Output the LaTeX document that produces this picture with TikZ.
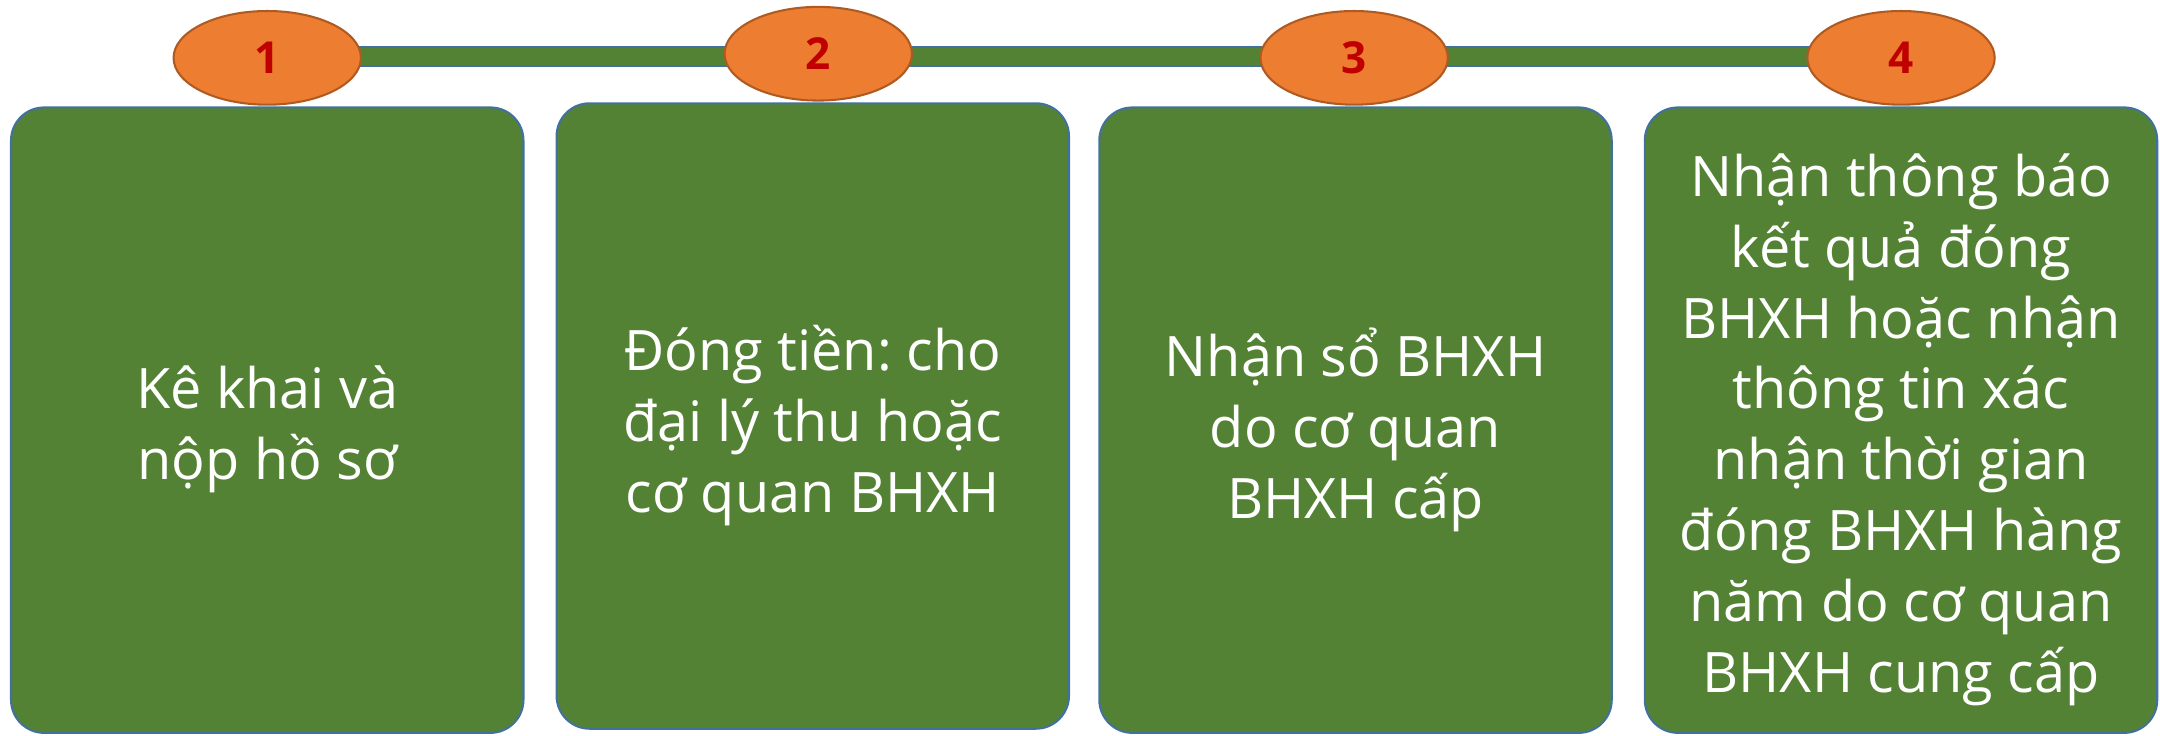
\documentclass[tikz,border=0pt]{standalone}
\usepackage{fontspec}
\setmainfont{Open Sans}
\usepackage{tikz}
\usetikzlibrary{shapes.geometric}
\definecolor{stepgreen}{HTML}{548235}
\definecolor{stepblue}{HTML}{41719C}
\definecolor{steporange}{HTML}{ED7D31}
\definecolor{steprim}{HTML}{AE5A21}
\definecolor{stepred}{HTML}{C00000}
\frenchspacing

\begin{document}
\begin{tikzpicture}[x=1pt,y=-1pt,
    card/.style = {draw=stepblue, fill=stepgreen, line width=1.5pt, rounded corners=24pt,
                   minimum width=372pt, minimum height=454pt},
    cardtext/.style = {text=white, align=center, font=\fontsize{40.5}{51.5}\selectfont},
    badge/.style = {draw=steprim, fill=steporange, ellipse, line width=1.5pt,
                    minimum width=136pt, minimum height=68pt, inner sep=0pt, text=stepred,
                    font=\fontsize{32}{32}\selectfont\bfseries}]
      \useasboundingbox (0,0) rectangle (1568,534);

      \node[card] (c1) at (194,305) {};
      \node[card] (c2) at (590,302) {};
      \node[card] (c3) at (984,305) {};
      \node[card] (c4) at (1380,305) {};

      \node[cardtext] (t1) at ([yshift=-7pt]c1.center) {Kê khai và\\nộp hồ sơ};
      \node[cardtext] (t2) at ([yshift=-7pt]c2.center) {Đóng tiền: cho\\đại lý thu hoặc\\cơ quan BHXH};
      \node[cardtext] (t3) at ([yshift=-7pt]c3.center) {Nhận sổ BHXH\\do cơ quan\\BHXH cấp};
      \node[cardtext] (t4) at ([yshift=-7pt]c4.center) {Nhận thông báo\\kết quả đóng\\BHXH hoặc nhận\\thông tin xác\\nhận thời gian\\đóng BHXH hàng\\năm do cơ quan\\BHXH cung cấp};

      % connecting bar behind the badges
      \coordinate (barA) at (194,34);
      \coordinate (barB) at (1380,48);
      \draw[stepblue, fill=stepgreen, line width=1.5pt] (barA) rectangle (barB);

      \node[badge] (b1) at (194,42) {1};
      \node[badge] (b2) at (594,39) {2};
      \node[badge] (b3) at (983,42) {3};
      \node[badge] (b4) at (1380,42) {4};

    \end{tikzpicture}
\end{document}
